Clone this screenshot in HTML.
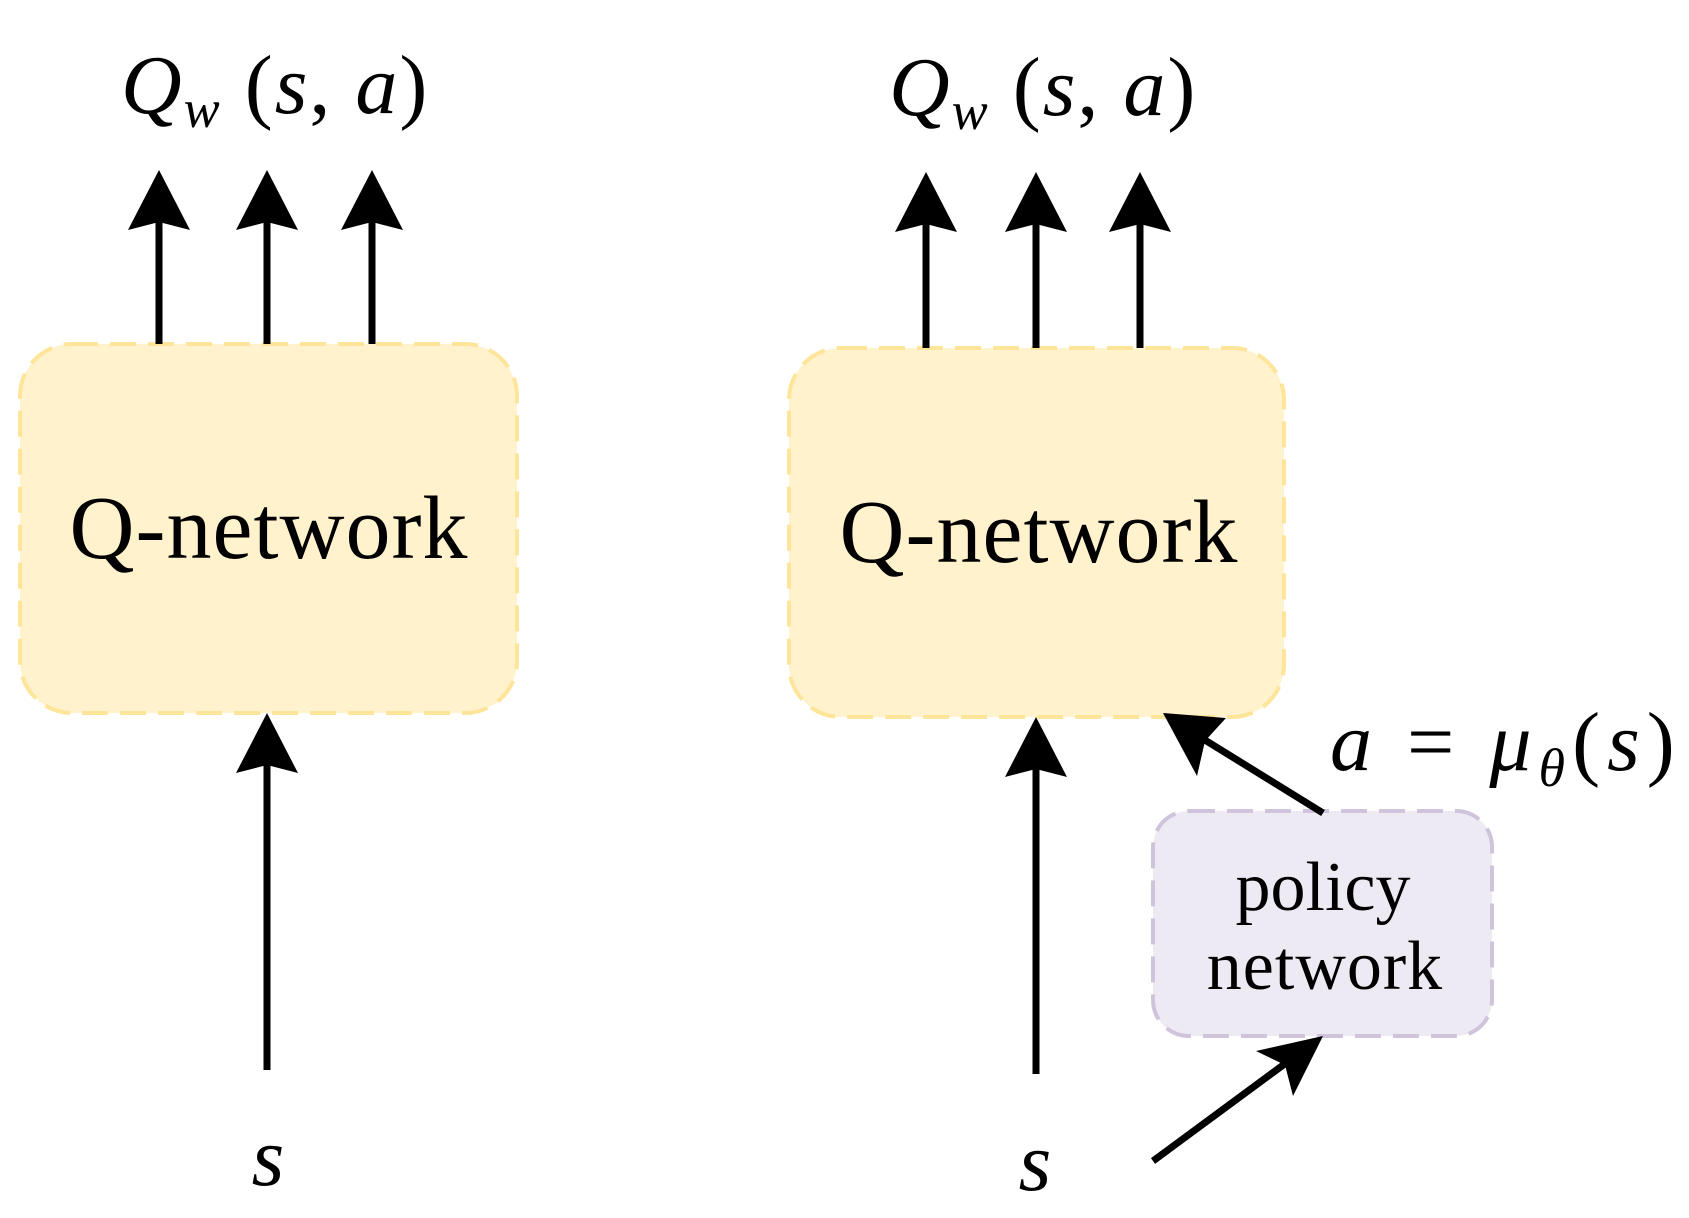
<!DOCTYPE html>
<html><head><meta charset="utf-8"><style>body{margin:0;background:#fff}svg{display:block}</style></head>
<body>
<svg width="1689" height="1218" viewBox="0 0 1689 1218" xmlns="http://www.w3.org/2000/svg" font-family="Liberation Serif, serif">
<rect x="20" y="344" width="497" height="369" rx="52" fill="#fff2cc" stroke="#ffe599" stroke-width="4" stroke-dasharray="26,12"/>
<rect x="789" y="348" width="495" height="369" rx="52" fill="#fff2cc" stroke="#ffe599" stroke-width="4" stroke-dasharray="26,12"/>
<rect x="1153" y="811" width="339" height="225" rx="36" fill="#eeeaf3" stroke="#d0c4dc" stroke-width="4" stroke-dasharray="26,12"/>
<g stroke="#000" stroke-width="7" fill="none">
<line x1="159" y1="344" x2="159" y2="215"/><line x1="267" y1="344" x2="267" y2="215"/><line x1="372" y1="344" x2="372" y2="215"/>
<line x1="926" y1="348" x2="926" y2="217"/><line x1="1036" y1="348" x2="1036" y2="217"/><line x1="1140" y1="348" x2="1140" y2="217"/>
<line x1="267" y1="1070" x2="267" y2="760"/>
<line x1="1036" y1="1074" x2="1036" y2="765"/>
<line x1="1323" y1="813" x2="1200" y2="737"/>
<line x1="1153" y1="1161" x2="1290" y2="1060"/>
</g>
<g fill="#000">
<path d="M159,170 L128,230 L159,222 L190,230Z"/><path d="M267,170 L236,230 L267,222 L298,230Z"/><path d="M372,170 L341,230 L372,222 L403,230Z"/>
<path d="M926,172 L895,232 L926,224 L957,232Z"/><path d="M1036,172 L1005,232 L1036,224 L1067,232Z"/><path d="M1140,172 L1109,232 L1140,224 L1171,232Z"/>
<path d="M267,713 L236,773 L267,765 L298,773Z"/>
<path d="M1036,717 L1005,777 L1036,769 L1067,777Z"/>
<path d="M1163,713 L1226,718 L1205,741 L1197,776Z"/>
<path d="M1323,1036 L1256,1051 L1285,1065 L1293,1096Z"/>
</g>
<g font-size="84" font-style="italic" letter-spacing="2">
<text x="121" y="113">Q<tspan font-size="54" dy="14">w</tspan><tspan dy="-14" font-style="normal"> (</tspan>s<tspan font-style="normal">, </tspan>a<tspan font-style="normal">)</tspan></text>
<text x="889" y="115">Q<tspan font-size="54" dy="14">w</tspan><tspan dy="-14" font-style="normal"> (</tspan>s<tspan font-style="normal">, </tspan>a<tspan font-style="normal">)</tspan></text>
<text x="1330" y="770" letter-spacing="7">a <tspan font-style="normal">= </tspan>μ<tspan font-size="54" dy="16">θ</tspan><tspan dy="-16" font-style="normal">(</tspan>s<tspan font-style="normal">)</tspan></text>
<text x="269" y="1185" text-anchor="middle">s</text>
<text x="1036" y="1190" text-anchor="middle">s</text>
</g>
<text x="269" y="558" font-size="90" letter-spacing="1" text-anchor="middle">Q-network</text>
<text x="1039" y="562" font-size="90" letter-spacing="1" text-anchor="middle">Q-network</text>
<text x="1323" y="910" font-size="70" text-anchor="middle">policy</text>
<text x="1325" y="989" font-size="70" letter-spacing="1" text-anchor="middle">network</text>
</svg>
</body></html>
